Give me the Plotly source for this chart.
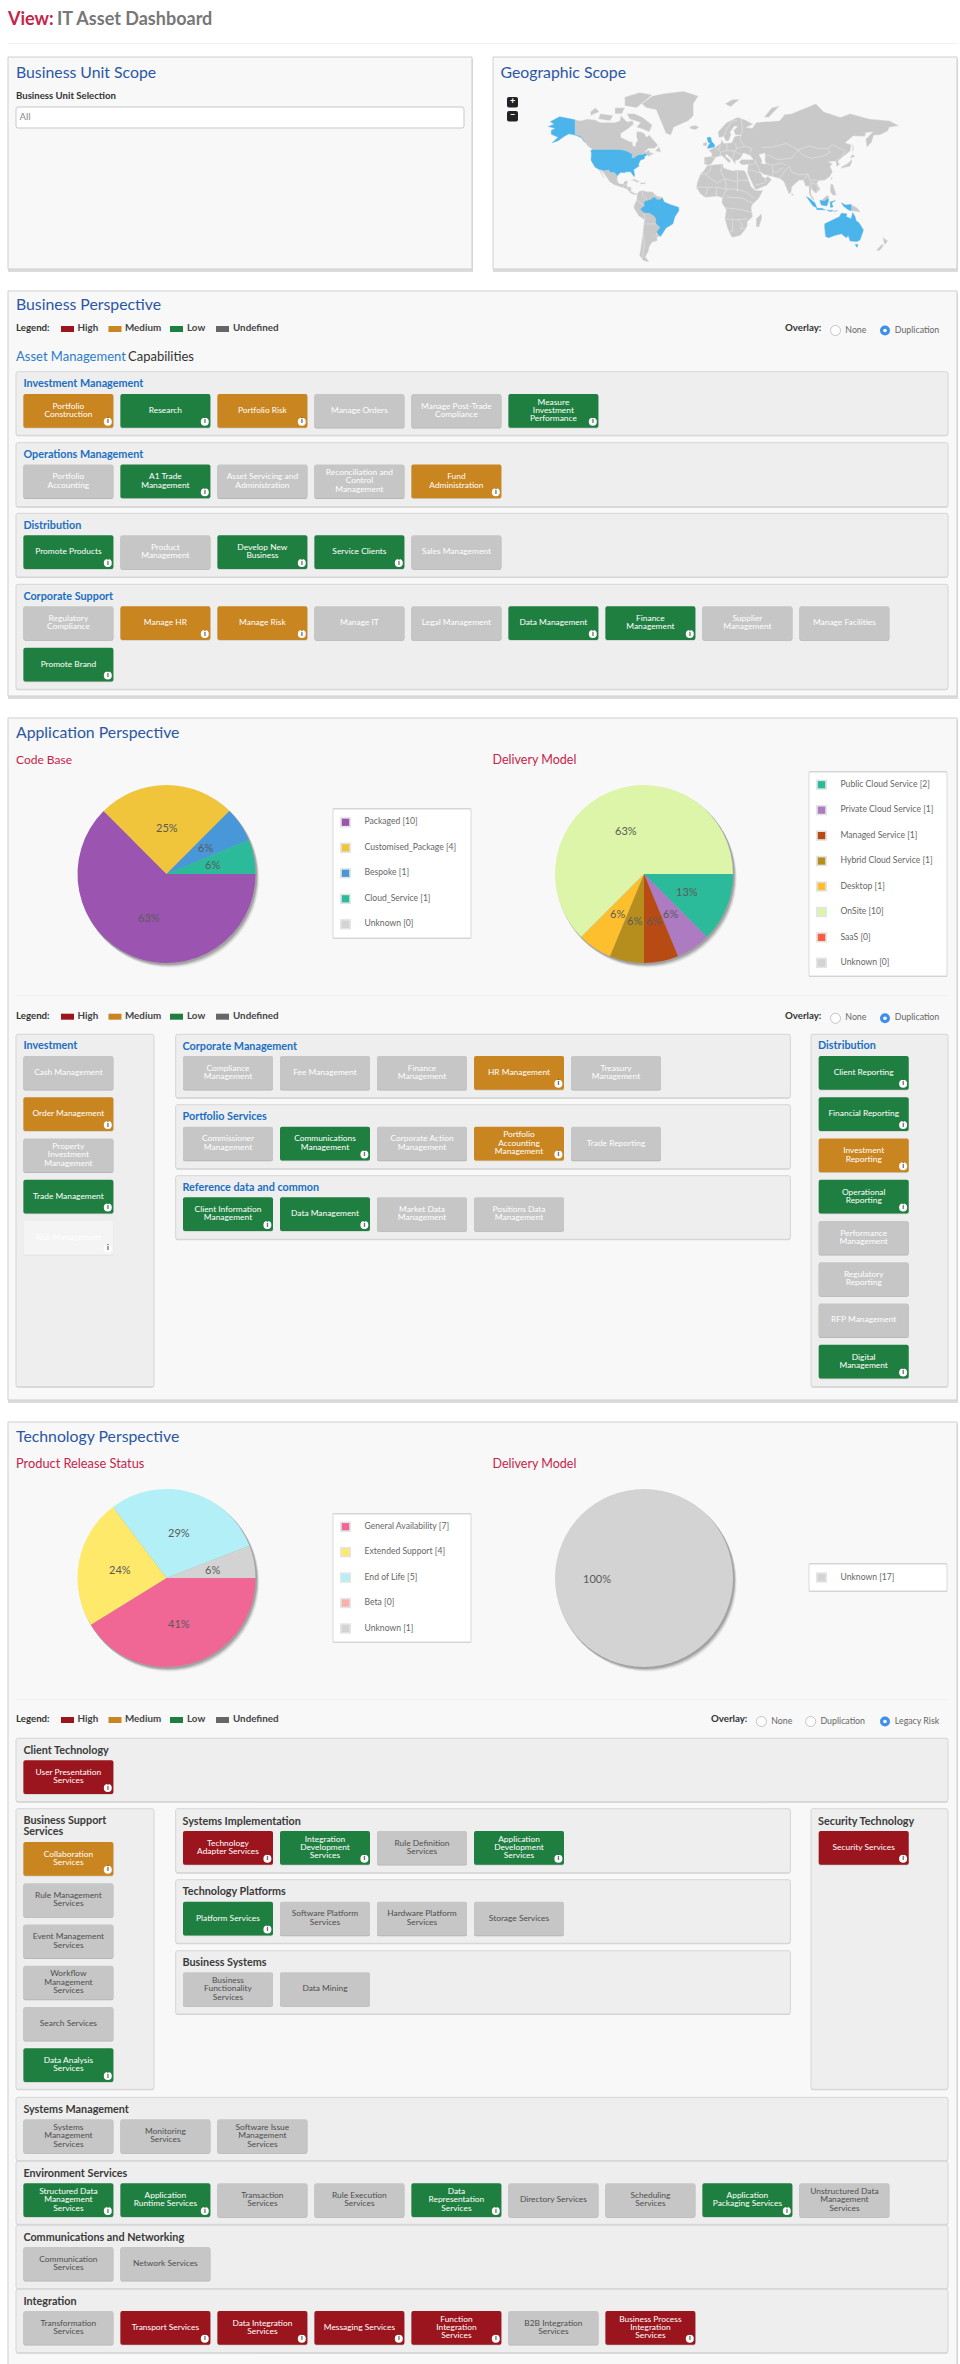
import math
import plotly.graph_objects as go

FONT = "Lato"
W, H = 960, 2364
BLUE_T = "#2a56a4"; CRIM = "#c6234a"; LINK = "#1b6fc2"; DARK = "#3a3a3a"
STATUS = {"H": "#9a151d", "M": "#c9851f", "L": "#1f7f40", "U": "#c6c6c6", "W": "#f4f4f4"}

# ------------------------ data ------------------------
BUSINESS_UNITS = ["All"]
LEGEND_NAMES = ["High", "Medium", "Low", "Undefined"]

INVESTMENT_MGMT = ["Portfolio|Construction", "Research", "Portfolio Risk", "Manage Orders",
                   "Manage Post-Trade|Compliance", "Measure|Investment|Performance"]
INVESTMENT_MGMT_S = ["M", "L", "M", "U", "U", "L"]
OPERATIONS_MGMT = ["Portfolio|Accounting", "A1 Trade|Management", "Asset Servicing and|Administration",
                   "Reconciliation and|Control|Management", "Fund|Administration"]
OPERATIONS_MGMT_S = ["U", "L", "U", "U", "M"]
DISTRIBUTION_CAP = ["Promote Products", "Product|Management", "Develop New|Business", "Service Clients", "Sales Management"]
DISTRIBUTION_CAP_S = ["L", "U", "L", "L", "U"]
CORPORATE_SUPPORT = ["Regulatory|Compliance", "Manage HR", "Manage Risk", "Manage IT", "Legal Management",
                     "Data Management", "Finance|Management", "Supplier|Management", "Manage Facilities", "Promote Brand"]
CORPORATE_SUPPORT_S = ["U", "M", "M", "U", "U", "L", "L", "U", "U", "L"]

APP_INVESTMENT = ["Cash Management", "Order Management", "Property|Investment|Management", "Trade Management", "Risk Management"]
APP_INVESTMENT_S = ["U", "M", "U", "L", "W"]
APP_CORPORATE = ["Compliance|Management", "Fee Management", "Finance|Management", "HR Management", "Treasury|Management"]
APP_CORPORATE_S = ["U", "U", "U", "M", "U"]
APP_PORTFOLIO = ["Commissioner|Management", "Communications|Management", "Corporate Action|Management",
                 "Portfolio|Accounting|Management", "Trade Reporting"]
APP_PORTFOLIO_S = ["U", "L", "U", "M", "U"]
APP_REFERENCE = ["Client Information|Management", "Data Management", "Market Data|Management", "Positions Data|Management"]
APP_REFERENCE_S = ["L", "L", "U", "U"]
APP_DISTRIBUTION = ["Client Reporting", "Financial Reporting", "Investment|Reporting", "Operational|Reporting",
                    "Performance|Management", "Regulatory|Reporting", "RFP Management", "Digital|Management"]
APP_DISTRIBUTION_S = ["L", "L", "M", "L", "U", "U", "U", "L"]

TECH_CLIENT = ["User Presentation|Services"]; TECH_CLIENT_S = ["H"]
TECH_SUPPORT = ["Collaboration|Services", "Rule Management|Services", "Event Management|Services",
                "Workflow|Management|Services", "Search Services", "Data Analysis|Services"]
TECH_SUPPORT_S = ["M", "U", "U", "U", "U", "L"]
TECH_IMPL = ["Technology|Adapter Services", "Integration|Development|Services", "Rule Definition|Services", "Application|Development|Services"]
TECH_IMPL_S = ["H", "L", "U", "L"]
TECH_PLATFORMS = ["Platform Services", "Software Platform|Services", "Hardware Platform|Services", "Storage Services"]
TECH_PLATFORMS_S = ["L", "U", "U", "U"]
TECH_BUSINESS = ["Business|Functionality|Services", "Data Mining"]; TECH_BUSINESS_S = ["U", "U"]
TECH_SECURITY = ["Security Services"]; TECH_SECURITY_S = ["H"]
TECH_SYSMGMT = ["Systems|Management|Services", "Monitoring|Services", "Software Issue|Management|Services"]
TECH_SYSMGMT_S = ["U", "U", "U"]
TECH_ENV = ["Structured Data|Management|Services", "Application|Runtime Services", "Transaction|Services", "Rule Execution|Services",
            "Data|Representation|Services", "Directory Services", "Scheduling|Services", "Application|Packaging Services",
            "Unstructured Data|Management|Services"]
TECH_ENV_S = ["L", "L", "U", "U", "L", "U", "U", "L", "U"]
TECH_COMM = ["Communication|Services", "Network Services"]; TECH_COMM_S = ["U", "U"]
TECH_INTEGRATION = ["Transformation|Services", "Transport Services", "Data Integration|Services", "Messaging Services",
                    "Function|Integration|Services", "B2B Integration|Services", "Business Process|Integration|Services"]
TECH_INTEGRATION_S = ["U", "H", "H", "H", "H", "U", "H"]

CODE_BASE_LABELS = ["Packaged", "Customised_Package", "Bespoke", "Cloud_Service", "Unknown"]
CODE_BASE_VALUES = [10, 4, 1, 1, 0]
CODE_BASE_COLORS = ["#9b55b0", "#f0c53c", "#4897d8", "#2bbb9b", "#d3d3d3"]
APP_DELIVERY_LABELS = ["Public Cloud Service", "Private Cloud Service", "Managed Service", "Hybrid Cloud Service",
                       "Desktop", "OnSite", "SaaS", "Unknown"]
APP_DELIVERY_VALUES = [2, 1, 1, 1, 1, 10, 0, 0]
APP_DELIVERY_COLORS = ["#2bbb9b", "#ad7bc2", "#b84b13", "#b58e1e", "#fdbf2d", "#dcf5a8", "#ff5b42", "#d3d3d3"]
RELEASE_LABELS = ["General Availability", "Extended Support", "End of Life", "Beta", "Unknown"]
RELEASE_VALUES = [7, 4, 5, 0, 1]
RELEASE_COLORS = ["#f06695", "#ffe96a", "#b3eff6", "#f9b1ab", "#d3d3d3"]
TECH_DELIVERY_LABELS = ["Unknown"]
TECH_DELIVERY_VALUES = [17]
TECH_DELIVERY_COLORS = ["#d3d3d3"]

# Rough country outlines, (longitude, latitude)
LAND_GRAY = [
 [(-141,69.6),(-135,69),(-128,70),(-120,69.5),(-115,68),(-108,68),(-100,68),(-95,69),(-94,72),(-88,68.5),(-82,69),(-81,67),(-87,64),(-94,61),(-94,58.5),(-90,57),(-85,55.3),(-82,55),(-82,52.5),(-79.5,51.5),(-79,54),(-77,56),(-78,59),(-78,62.3),(-73,62),(-70,61),(-68,58.5),(-65,60),(-62,57.5),(-56,52.5),(-60,50),(-66,50),(-70,47),(-65,49),(-64.5,47),(-60,46),(-66,43.5),(-67,45),(-70,46),(-71,45),(-75,45),(-79,43.5),(-79,42.8),(-83,42),(-82.5,45),(-84.5,46.5),(-89,48),(-95,49),(-123,49),(-128,52),(-131,55),(-135,59),(-141,60)],
 [(-80,73),(-72,71),(-62,66.5),(-65,62),(-72,64),(-78,65),(-74,68),(-85,70),(-88,73)],
 [(-117,70),(-105,69),(-102,72),(-115,73)],
 [(-90,77),(-78,76),(-62,82),(-75,83),(-90,81)],
 [(-125,72),(-116,74),(-120,76),(-125,74)],
 [(-100,73),(-93,73),(-90,76),(-100,76)],
 [(-59,48),(-53,47),(-55,51.5)],
 [(-73,78),(-68,76),(-58,75),(-54,70),(-51,65),(-48,61),(-43,60),(-40,65),(-25,69),(-20,72),(-20,78),(-15,81.5),(-30,83.5),(-50,82.5),(-62,81.5)],
 [(-117.1,32.5),(-114.8,32.5),(-111,31.3),(-106.5,31.8),(-104.5,29.6),(-101,29.7),(-97.2,26),(-97.8,22),(-96,19),(-94,18.2),(-91,18.8),(-90.5,21),(-87,21.5),(-88,16),(-83.5,15),(-83.5,11),(-80,9),(-77.5,8.6),(-78,7.5),(-81,7.5),(-85.5,10),(-87.5,13),(-92,14.5),(-96,16),(-101,17.5),(-105.5,20.5),(-109,25.5),(-112.5,30),(-114.5,31.5)],
 [(-117,32.5),(-114.8,31.5),(-110,23),(-112,25)],
 [(-84.5,22),(-80,23),(-74.3,20.2),(-77.5,19.9),(-82,22)],
 [(-74,19.8),(-69,19.5),(-68.5,18.4),(-74,18)],
 [(-77.5,8.6),(-75,11),(-72,12),(-68,10.7),(-62,10.5),(-57,6),(-52,5),(-50,0),(-44,-2.5),(-35,-5.5),(-35,-9),(-39,-15),(-41,-22),(-48,-26),(-53.5,-34),(-57,-34.5),(-57,-38),(-62,-39),(-65,-43),(-66,-47),(-69,-51),(-65,-55),(-71,-54),(-75,-50),(-73,-40),(-71.5,-30),(-70,-18),(-76,-14),(-81,-6),(-80,-2),(-78,2),(-77.5,7)],
 [(-6,35.8),(10,37.3),(11,33.5),(20,31),(25,31.7),(32,31.2),(34.3,28),(37,21),(39,15.5),(43,12),(51,11.8),(47,4),(40,-3),(39,-6),(40.5,-15),(35,-20),(35,-24),(32.5,-28),(28,-33),(20,-34.8),(18,-33),(15,-27),(12,-17),(13.5,-8),(9,-1),(9.5,4),(5,5.8),(-4,5),(-8,4.5),(-13,8.5),(-17,14.7),(-16,20),(-13,27.5),(-9.5,31)],
 [(49.3,-12),(50,-16),(47,-25),(44,-25),(44,-17)],
 [(-9,37),(-9.2,43),(-2,43.5),(-1,46),(-4.5,48.4),(2,51),(8,54),(8.5,57),(11,54),(19,54.5),(22,59),(29,60),(23,60),(21,63),(25,65.5),(22,65.8),(17.5,62),(18.5,60),(16,56),(13,55.5),(11,59),(6,58),(5,62),(14,68),(25,71),(33,69.5),(41,67),(34,65),(40,64.5),(44,68),(54,68.5),(68,69),(73,72.5),(80,73),(95,76),(105,78),(113,74),(130,71),(140,73),(160,70),(180,69),(190,66),(180,65),(178,62.5),(170,60),(164,59.8),(162,55),(157,51),(155.7,57),(163,62),(156,61.5),(155,59),(143,59.3),(135,54.5),(141,53),(140,48),(132,43),(129.5,41),(127.5,39.5),(129.3,37),(126.5,34.5),(125,39.5),(121,39),(118,39),(122,37),(119.5,35),(122,30),(119,25),(114,22),(108,21.5),(106,19),(109.3,13),(105,8.7),(100,13.5),(100,8),(104,1.4),(101,3),(98,8.5),(98,16),(94.5,16),(92,22),(88,22),(80.5,15.5),(79.8,10),(77.5,8),(73,18),(72,21),(68,23.5),(61,25),(57,26),(52,27.5),(48,30),(51,25),(54,24),(56,26),(59.8,22.5),(55,17),(45,13),(43,12.7),(39,21),(34.9,29.5),(35.5,33.5),(36,36.7),(30,36.3),(26.5,38.5),(29,41),(41,41),(38,44.5),(31,46.5),(28,42),(26,40.8),(23,40),(23,36.5),(19.5,41),(14,45.5),(12.5,44),(18.5,40),(16,38),(12,42),(8.5,44.3),(3,43),(0,39.5),(-2,36.7),(-5.5,36)],
 [(-10,52),(-6,52.2),(-6,55),(-10,54.3)],
 [(-24,65.5),(-18,66.3),(-14,65),(-18,63.5),(-22.5,64)],
 [(12,78),(20,80),(27,80),(18,76.5)],
 [(52,71),(57,71),(68,77),(60,76)],
 [(130,33),(136,34),(140,35),(142,39.5),(141,41.3),(139.5,39),(136.5,37),(132,35)],
 [(140,42),(145,43.5),(142,45.5)],
 [(142,46),(143.5,50),(142.5,54),(142,50)],
 [(120,18.5),(122.3,18),(124,13),(126,7),(122,7),(119.5,11)],
 [(120.2,23),(121,25),(122,25),(121,22)],
 [(80,9.5),(82,7.5),(80.5,6)],
 [(109.5,1.5),(111,2),(116.5,7),(119,5),(117.5,4),(114,1)],
 [(141,-2.6),(147,-6),(151,-10.5),(141,-9)],
 [(173,-34.5),(178.5,-38),(175,-41.5),(174,-39)],
 [(172.5,-40.7),(174,-42),(170,-46.3),(166.5,-46)],
]
LAND_BLUE = [
 [(-124.7,48.4),(-123,49),(-95,49),(-89,48),(-84.5,46.5),(-82.5,45),(-83,42),(-79,42.8),(-79,43.5),(-75,45),(-71,45),(-70,46),(-67,45),(-70,43.5),(-70,41.7),(-74,40.5),(-76,37),(-75.5,35.3),(-81,32),(-80,27),(-80.5,25.2),(-82.5,28),(-84,30),(-89,30),(-90,29),(-94,29.5),(-97.3,27),(-97.2,26),(-101,29.7),(-104.5,29.6),(-106.5,31.8),(-111,31.3),(-114.8,32.5),(-117.1,32.5),(-120.5,34.5),(-122.5,37.5),(-124.4,40.4),(-124,46)],
 [(-141,69.6),(-141,60),(-135,59),(-131,55),(-134,58),(-140,59.8),(-147,60.8),(-152,59),(-158,56),(-164,54.5),(-158,58.5),(-165,60.5),(-165,63),(-161,64.5),(-168,65.5),(-162,67),(-166,68.5),(-156.5,71.3)],
 [(-51.6,4.2),(-50,0),(-44,-2.5),(-35,-5.5),(-35,-9),(-39,-15),(-41,-22),(-48,-26),(-53.5,-33.7),(-57.5,-30),(-54,-26),(-58,-22),(-58,-17),(-60,-14),(-65,-11),(-70,-11),(-74,-7.5),(-70,-4),(-70,0),(-67,1.5),(-64,2),(-60,5),(-57,2),(-54,2.5)],
 [(-5.5,50),(1.5,51.3),(1.5,53),(-1.5,55.5),(-2,57.5),(-3,58.6),(-6,58),(-5,55),(-3,54),(-5,52)],
 [(95.3,5.6),(98,4),(104,-1),(106,-5.8),(102,-4),(98.5,1)],
 [(105.5,-6.5),(111,-6.5),(114.5,-8),(106,-7.8)],
 [(109,1.5),(114,1),(117.5,4),(118,1),(116,-4),(110.5,-3)],
 [(119.5,0),(125,1.5),(121,-1),(122.5,-5),(120,-5.5)],
 [(131,-0.8),(135,-3),(141,-2.6),(141,-9),(138,-8),(133,-4)],
 [(116,-8.3),(120,-8.3),(123,-8.8),(120,-9.8)],
 [(123.5,-10),(127,-8.5),(125,-9)],
 [(114,-22),(114,-26),(115,-34),(118,-35),(124,-33),(131,-31.5),(136,-35),(138,-33),(140,-38),(147,-38.5),(150,-37),(153.5,-28),(149,-21),(146,-19),(145,-15),(142.5,-10.8),(141,-17),(136,-15),(136.5,-12),(131,-11.5),(129,-15),(122,-18)],
 [(145,-41),(148,-41),(147,-43.5)],
]
WATER = [[(47,45),(53,46.5),(53,40),(54,37),(49.5,37.5),(50,40.5)]]
BORDERS = [
 [(-13,27.7),(-8,27.7),(4,19),(12,23.5),(25,20)], [(25,31.7),(25,11)], [(-8,27.7),(-3,31),(-2,35)], [(9,37),(8,30),(12,23.5),(14,13),(24,13),(25,11)],
 [(37,21.8),(25,21.8)], [(-17,15),(-5,15),(4,15),(14,13)], [(24,13),(34,10),(42,4)], [(9.5,4),(14,13)], [(14,5),(30,4),(41,-2)],
 [(13,-6),(30,-8),(40,-11)], [(12,-17),(25,-18),(35,-17)], [(20,-18),(20,-29),(17,-29)], [(25,-18),(30,-22),(28,-27),(32.5,-26)], [(-5,15),(-8,5)], [(4,15),(3,6)],
 [(2,51),(6,49),(8,47.5),(7,44)], [(-2,43.5),(3,42.5)], [(7,53.5),(7,51),(6,49)], [(14,54),(15,51),(13,48.5),(9,47.5)], [(23,54),(24,50),(22,48),(17,48),(13,48.5)],
 [(28,60),(28,56),(32,52),(40,50),(38,47)], [(24,50),(32,52)], [(22,48),(28,46),(29,45)], [(20,42),(22,48)], [(11,59),(14,64),(20,69),(25,69)], [(29,70),(30,62),(28,60)], [(-9,42),(-7,38)],
 [(50,51),(60,51),(75,54),(87,49)], [(87,49),(98,52),(107,50),(117,50),(120,47),(112,44),(100,42),(91,45),(87,49)], [(117,50),(122,53),(135,48),(131,43)],
 [(52,42),(56,45),(66,41),(75,42),(80,42),(87,49)], [(44,39),(46,35),(48,30)], [(54,37.5),(61,36),(61,25)], [(61,36),(71,38),(74,36)], [(61,30),(66,30),(71,34)],
 [(68,24),(71,28),(74,32),(78,35),(80,30),(88,27),(97,28),(94,24),(92,22)], [(97,28),(99,22),(106,22),(108,21.5)], [(99,20),(101,13.5)], [(100,20),(105,18),(107,15),(106,10)],
 [(35,29.5),(39,32),(46,29),(48,30)], [(43,17),(52,19),(55,22),(52,24)], [(36,36.7),(42,37),(44,39.5),(41,41)], [(125,40),(130,42.5)], [(126.5,38),(128.5,38.5)],
 [(-70,-11),(-69,-18),(-70,-18)], [(-58,-22),(-62,-22),(-69,-22)], [(-71.5,-30),(-70,-40),(-72,-52)], [(-78,2),(-75,0),(-70,-4)], [(-72,12),(-72,7),(-67,1.5)], [(-60,5),(-60,8)], [(-54,2.5),(-54,5.5)], [(-57.5,-30),(-58,-34)], [(-58,-22),(-54,-26)],
 [(-92,14.5),(-91,17.5),(-89,18)], [(-88,16),(-85,13)], [(-83.5,11),(-86,11)],
]


# ------------------------ helpers ------------------------
shapes, items, icons_x, icons_y, annotations = [], [], [], [], []

def rect(x0, y0, x1, y1, fill, line=None, lw=1, r=0):
    s = dict(type="rect", x0=x0, x1=x1, y0=y0, y1=y1) if r == 0 else dict(
        type="path",
        path=f"M{x0+r},{y0} L{x1-r},{y0} Q{x1},{y0} {x1},{y0+r} L{x1},{y1-r} Q{x1},{y1} {x1-r},{y1} "
             f"L{x0+r},{y1} Q{x0},{y1} {x0},{y1-r} L{x0},{y0+r} Q{x0},{y0} {x0+r},{y0} Z")
    s.update(xref="x", yref="y", layer="below", fillcolor=fill, line=dict(color=line or fill, width=lw if line else 0))
    shapes.append(s)

def circle(cx, cy, rx, fill, line=None, lw=1, ry=None):
    ry = ry or rx
    shapes.append(dict(type="circle", xref="x", yref="y", layer="below", x0=cx-rx, x1=cx+rx, y0=cy-ry, y1=cy+ry,
                       fillcolor=fill, line=dict(color=line or fill, width=lw if line else 0)))

def txt(x, y, s, size, color, anchor="l", bold=False):
    items.append((x, y, f"<b>{s}</b>" if bold else s, size, color, "middle right" if anchor == "l" else "middle center"))

def panel(x0, y0, x1, y1):
    rect(x0, y0+2, x1+1, y1+3, "#dcdcdc")
    rect(x0, y0, x1, y1, "#f8f8f8", "#cfcfcf", 1)

def group(x0, y0, x1, y1):
    rect(x0, y0+1, x1, y1+1, "#d2d2d2", r=2)
    rect(x0, y0, x1, y1, "#eeeeee", "#d6d6d6", 1, r=2)

TW, TH = 90, 33.7
def tile(x, y, name, status, dark_gray=False):
    fill = STATUS[status]
    rect(x, y+0.8, x+TW, y+TH+0.8, {"U": "#b0b0b0", "W": "#dddddd"}.get(status, "#cfcfcf"), r=2)
    rect(x, y, x+TW, y+TH, fill, r=2)
    col = "#4f4f4f" if (status == "U" and dark_gray) else "#ffffff"
    lines = name.split("|")
    for i, ln in enumerate(lines):
        txt(x+TW/2, y+TH/2+(i-(len(lines)-1)/2)*8.3, ln, 8.4, col, "c")
    if status != "U":
        icons_x.append(x+TW-5.6); icons_y.append(y+TH-6)

def row(x, y, names, stats, dark=False, pitch=97):
    for i, (n, s) in enumerate(zip(names, stats)):
        tile(x+i*pitch, y, n, s, dark)

def column(x, y, names, stats, dark=False, pitch=41.25):
    for i, (n, s) in enumerate(zip(names, stats)):
        tile(x, y+i*pitch, n, s, dark)

def legend_row(y):
    txt(16, y, "Legend:", 9.7, "#333", bold=True)
    for (sx, tx), name, k in zip([(61, 77.5), (108.5, 125), (170, 187), (216, 233)], LEGEND_NAMES, ["H", "M", "L", "G"]):
        rect(sx, y-3, sx+13, y+3, {"G": "#666666"}.get(k, STATUS.get(k)))
        txt(tx, y, name, 9.8, "#444", bold=True)

def radio(x, y, selected, label):
    if selected:
        circle(x, y, 5, "#3f8fea")
        circle(x, y, 1.8, "#ffffff")
    else:
        circle(x, y, 5, "#ffffff", "#c4c4c4", 1)
    txt(x+9.8, y, label, 8.8, "#666")

percent = lambda v, t: f"{int(100*v/t+0.5)}%"
pie_traces = []
def pie(cx, cy, labels, values, colors, r=89):
    for k, (d, a) in enumerate([(6, .05), (5, .07), (4, .09), (3, .12), (2, .16)]):
        circle(cx+d*0.55, cy+d*0.7, r+0.5, f"rgba(40,40,40,{a})")
    pie_traces.append(go.Pie(
        labels=labels, values=values, sort=False, direction="clockwise", rotation=90,
        marker=dict(colors=colors, line=dict(width=0)), textinfo="none", hoverinfo="skip", showlegend=False,
        domain=dict(x=[(cx-r)/W, (cx+r)/W], y=[1-(cy+r)/H, 1-(cy-r)/H])))
    tot = sum(values); acc = 0
    for v in values:
        if v > 0:
            mid = (acc+v/2)/tot*2*math.pi
            annotations.append(dict(x=cx+47*math.cos(mid), y=cy+47*math.sin(mid), xref="x", yref="y", text=percent(v, tot),
                                    showarrow=False, font=dict(family=FONT, size=11, color="#5a5a5a")))
        acc += v

def legend_box(x0, y0, x1, y1, rows_y, labels, values, colors):
    rect(x0, y0-1, x1, y1+1, "#d8d8d8")
    rect(x0, y0, x1, y1, "#ffffff", "#d0d0d0", 0.8)
    for y, lab, val, col in zip(rows_y, labels, values, colors):
        rect(x0+7, y-5.2, x0+18, y+5.2, "#e4e4e4")
        rect(x0+8.8, y-3.6, x0+16.2, y+3.6, col)
        txt(x0+31.5, y, f"{lab} [{val}]", 8.6, "#666")

# ------------------------ page ------------------------
txt(8, 20, "View:", 18, CRIM, bold=True)
txt(57, 20, "IT Asset Dashboard", 18, "#777", bold=True)
rect(8, 43, 957, 43.8, "#eeeeee")

panel(8, 57, 472, 269)
txt(16, 74, "Business Unit Scope", 15.8, BLUE_T)
txt(16, 97, "Business Unit Selection", 9.6, "#333", bold=True)
rect(16, 107, 464, 128, "#ffffff", "#c8c8c8", 1, r=2)
txt(19.5, 118, BUSINESS_UNITS[0], 9.6, "#888")

panel(493, 57, 957, 269)
txt(500.5, 74, "Geographic Scope", 15.8, BLUE_T)
rect(507, 97, 518, 107.5, "#222222", r=2)
rect(507, 111, 518, 121.5, "#222222", r=2)
txt(512.5, 102.2, "+", 9, "#fff", "c", True)
txt(512.5, 116, "−", 9, "#fff", "c", True)

# business perspective
panel(8, 291, 957, 696)
txt(16, 306.5, "Business Perspective", 15.8, BLUE_T)
legend_row(329)
txt(785, 329, "Overlay:", 9.7, "#333", bold=True)
radio(835.5, 330.5, False, "None"); radio(885, 330.5, True, "Duplication")
txt(16, 357.5, "Asset Management", 13, "#2b7cc9")
txt(128, 357.5, "Capabilities", 13, "#333")

for y0, y1, ty, tiley, title, names, st in [
    (371.7, 435.3, 384.7, 394, "Investment Management", INVESTMENT_MGMT, INVESTMENT_MGMT_S),
    (442.7, 506.7, 455.7, 464.5, "Operations Management", OPERATIONS_MGMT, OPERATIONS_MGMT_S),
    (513.3, 577, 526.3, 535.3, "Distribution", DISTRIBUTION_CAP, DISTRIBUTION_CAP_S),
    (584.3, 689.3, 597.3, 606.3, "Corporate Support", CORPORATE_SUPPORT, CORPORATE_SUPPORT_S)]:
    group(16, y0, 948, y1)
    txt(23.4, ty, title, 10.8, LINK, bold=True)
    row(23.4, tiley, names[:9], st[:9])
tile(23.4, 647.7, CORPORATE_SUPPORT[9], CORPORATE_SUPPORT_S[9])

# application perspective
panel(8, 718, 957, 1400)
txt(16, 734.3, "Application Perspective", 15.8, BLUE_T)
txt(16, 761.3, "Code Base", 12, CRIM)
txt(492.6, 761.3, "Delivery Model", 12.5, CRIM)
pie(166.5, 874, CODE_BASE_LABELS, CODE_BASE_VALUES, CODE_BASE_COLORS)
pie(644, 874, APP_DELIVERY_LABELS, APP_DELIVERY_VALUES, APP_DELIVERY_COLORS)
legend_box(333, 809, 471, 938, [822.3+i*25.5 for i in range(5)], CODE_BASE_LABELS, CODE_BASE_VALUES, CODE_BASE_COLORS)
legend_box(809, 772, 947, 976, [784.7+i*25.45 for i in range(8)], APP_DELIVERY_LABELS, APP_DELIVERY_VALUES, APP_DELIVERY_COLORS)
rect(16, 995, 948, 995.8, "#eeeeee")
legend_row(1016.7)
txt(785, 1016.7, "Overlay:", 9.7, "#333", bold=True)
radio(835.5, 1018.3, False, "None"); radio(885, 1018.3, True, "Duplication")

group(16, 1034.3, 154, 1386.7)
txt(23.4, 1046.7, "Investment", 10.8, LINK, bold=True)
column(23.4, 1056, APP_INVESTMENT, APP_INVESTMENT_S)
for y0, y1, ty, tiley, title, names, st in [
    (1034.3, 1097.7, 1047, 1056, "Corporate Management", APP_CORPORATE, APP_CORPORATE_S),
    (1104.7, 1168.7, 1117.7, 1126.7, "Portfolio Services", APP_PORTFOLIO, APP_PORTFOLIO_S),
    (1175.7, 1239.3, 1188.7, 1197.3, "Reference data and common", APP_REFERENCE, APP_REFERENCE_S)]:
    group(175.7, y0, 790.4, y1)
    txt(182.5, ty, title, 10.8, LINK, bold=True)
    row(183, tiley, names, st)
group(811, 1034.3, 948, 1386.7)
txt(818, 1046.7, "Distribution", 10.8, LINK, bold=True)
column(818.7, 1056, APP_DISTRIBUTION, APP_DISTRIBUTION_S)

# technology perspective
panel(8, 1422, 957, 2372)
txt(16, 1438.3, "Technology Perspective", 15.8, BLUE_T)
txt(16, 1465.3, "Product Release Status", 12.8, CRIM)
txt(492.6, 1465.3, "Delivery Model", 12.5, CRIM)
pie(166.5, 1578, RELEASE_LABELS, RELEASE_VALUES, RELEASE_COLORS)
pie(644, 1578, TECH_DELIVERY_LABELS, TECH_DELIVERY_VALUES, TECH_DELIVERY_COLORS)
legend_box(333, 1514, 471, 1642, [1526.7+i*25.45 for i in range(5)], RELEASE_LABELS, RELEASE_VALUES, RELEASE_COLORS)
legend_box(809, 1564, 947, 1591, [1577.5], TECH_DELIVERY_LABELS, TECH_DELIVERY_VALUES, TECH_DELIVERY_COLORS)
rect(16, 1699, 948, 1699.8, "#eeeeee")
legend_row(1720)
txt(711, 1720, "Overlay:", 9.7, "#333", bold=True)
radio(761.4, 1721.5, False, "None"); radio(810.7, 1721.5, False, "Duplication"); radio(885, 1721.5, True, "Legacy Risk")

for y0, y1, ty, tiley, title, names, st in [
    (1738.3, 1801.7, 1751, 1760.3, "Client Technology", TECH_CLIENT, TECH_CLIENT_S),
    (2097.3, 2160.7, 2110, 2119.3, "Systems Management", TECH_SYSMGMT, TECH_SYSMGMT_S),
    (2161.3, 2224.3, 2174, 2183.3, "Environment Services", TECH_ENV, TECH_ENV_S),
    (2225.3, 2288.7, 2238, 2247, "Communications and Networking", TECH_COMM, TECH_COMM_S),
    (2289.3, 2352.7, 2302, 2311, "Integration", TECH_INTEGRATION, TECH_INTEGRATION_S)]:
    group(16, y0, 948, y1)
    txt(23.4, ty, title, 10.8, DARK, bold=True)
    row(23.4, tiley, names, st, True)

group(16, 1808.7, 154, 2089.3)
txt(23.4, 1821.7, "Business Support", 10.8, DARK, bold=True)
txt(23.4, 1832.7, "Services", 10.8, DARK, bold=True)
column(23.4, 1842, TECH_SUPPORT, TECH_SUPPORT_S, True)
for y0, y1, ty, tiley, title, names, st in [
    (1808.7, 1872.7, 1822, 1831, "Systems Implementation", TECH_IMPL, TECH_IMPL_S),
    (1879.7, 1943.3, 1892.7, 1901.7, "Technology Platforms", TECH_PLATFORMS, TECH_PLATFORMS_S),
    (1950.7, 2014, 1963.7, 1972.3, "Business Systems", TECH_BUSINESS, TECH_BUSINESS_S)]:
    group(175.7, y0, 790.4, y1)
    txt(182.5, ty, title, 10.8, DARK, bold=True)
    row(183, tiley, names, st, True)
group(811, 1808.7, 948, 2089.3)
txt(818, 1822, "Security Technology", 10.8, DARK, bold=True)
column(818.7, 1831, TECH_SECURITY, TECH_SECURITY_S, True)

# ------------------------ traces ------------------------
fig = go.Figure()
fig.add_trace(go.Scatter(x=icons_x, y=icons_y, mode="markers+text", text=["<b>i</b>"]*len(icons_x), textposition="middle center",
                         marker=dict(size=8, color="#ffffff"), textfont=dict(family=FONT, size=7, color="#333"),
                         hoverinfo="skip", showlegend=False, cliponaxis=False))
fig.add_trace(go.Scatter(x=[i[0] for i in items], y=[i[1] for i in items], mode="text", text=[i[2] for i in items],
                         textposition=[i[5] for i in items],
                         textfont=dict(family=FONT, size=[i[3] for i in items], color=[i[4] for i in items]),
                         hoverinfo="skip", showlegend=False, cliponaxis=False))

def miller(lat):
    return 1.25*math.log(math.tan(math.pi/4+0.4*math.radians(lat)))

def flat(polys, close=True):
    xs, ys = [], []
    for p in polys:
        pts = p+[p[0]] if close else p
        xs += [q[0] for q in pts]+[None]
        ys += [miller(q[1]) for q in pts]+[None]
    return xs, ys

for polys, col in [(LAND_GRAY, "#c9c9c9"), (LAND_BLUE, "#4bb4ea"), (WATER, "#f8f8f8")]:
    xs, ys = flat(polys)
    fig.add_trace(go.Scatter(x=xs, y=ys, xaxis="x2", yaxis="y2", mode="lines", fill="toself", fillcolor=col,
                             line=dict(color="#efefef" if col != "#4bb4ea" else col, width=0.4), hoverinfo="skip", showlegend=False))
xs, ys = flat(BORDERS, close=False)
fig.add_trace(go.Scatter(x=xs, y=ys, xaxis="x2", yaxis="y2", mode="lines", line=dict(color="#ededed", width=0.5),
                         hoverinfo="skip", showlegend=False))
for p in pie_traces:
    fig.add_trace(p)

# map frame in page pixels; 1 degree of longitude = .98 px with lon 0 at x=713, equator at y=202, 56 px per Miller unit
MX0, MX1, MY0, MY1 = 530.0, 920.0, 85.0, 268.0
fig.update_layout(
    width=W, height=H, margin=dict(l=0, r=0, t=0, b=0), paper_bgcolor="#ffffff", plot_bgcolor="rgba(0,0,0,0)",
    xaxis=dict(range=[0, W], visible=False, fixedrange=True, domain=[0, 1]),
    yaxis=dict(range=[H, 0], visible=False, fixedrange=True, domain=[0, 1]),
    xaxis2=dict(range=[(MX0-713)/.98, (MX1-713)/.98], visible=False, fixedrange=True, domain=[MX0/W, MX1/W], anchor="y2"),
    yaxis2=dict(range=[(202-MY1)/56, (202-MY0)/56], visible=False, fixedrange=True, domain=[1-MY1/H, 1-MY0/H], anchor="x2"),
    shapes=shapes, annotations=annotations, font=dict(family=FONT), showlegend=False,
)
fig.write_html("out.html", config={"displayModeBar": False},
               post_script="document.body.style.margin='0';document.documentElement.style.overflow='hidden';")
